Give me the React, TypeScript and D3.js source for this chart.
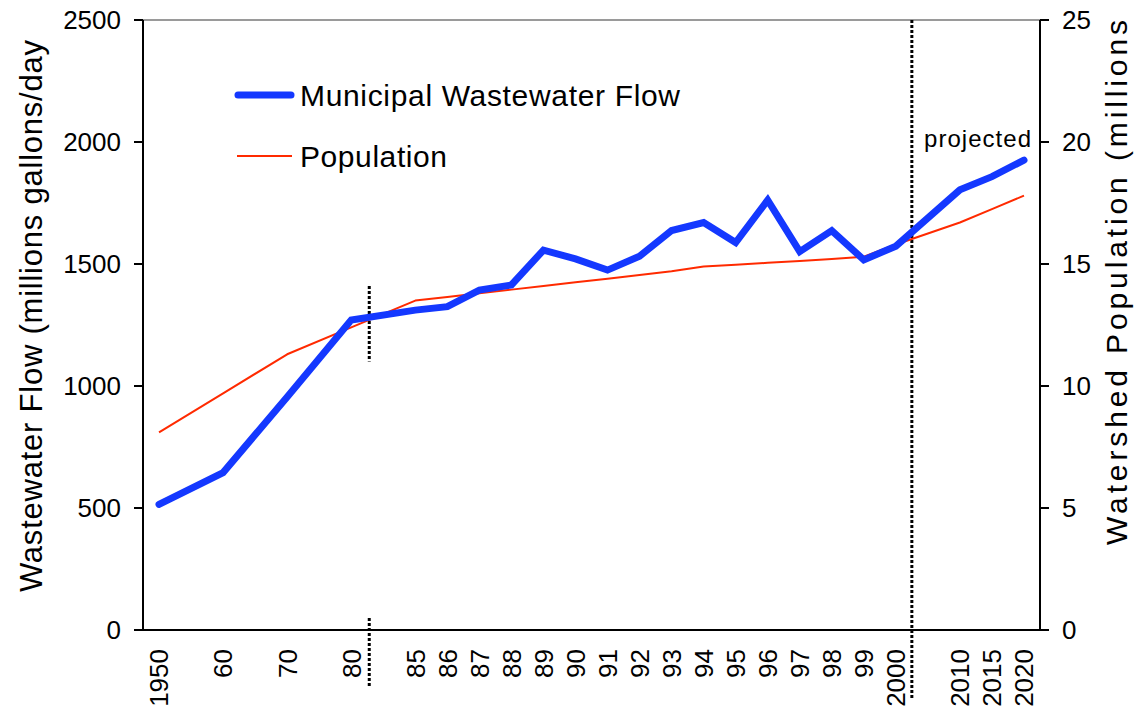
import React from "react";
import * as d3 from "d3";

const categories: string[] = [
  "1950", "", "60", "", "70", "", "80", "",
  "85", "86", "87", "88", "89", "90", "91", "92", "93", "94", "95", "96", "97", "98", "99",
  "2000", "", "2010", "2015", "2020",
];

const flow: (number | null)[] = [
  515, null, 645, null, 955, null, 1270, null,
  1311, 1325, 1393, 1414, 1557, 1521, 1475, 1532, 1637, 1670, 1588, 1762, 1551, 1637, 1517,
  1573, null, 1804, 1858, 1926,
];

const population: (number | null)[] = [
  8.1, null, 9.7, null, 11.3, null, 12.4, null,
  13.5, 13.65, 13.8, 13.95, 14.1, 14.25, 14.4, 14.55, 14.7, 14.9, 14.97, 15.05, 15.12, 15.2, 15.3,
  15.8, null, 16.7, 17.25, 17.8,
];

const leftTicks = [0, 500, 1000, 1500, 2000, 2500];
const rightTicks = [0, 5, 10, 15, 20, 25];
const breakAfter = ["80", "2000"];

const W = 1137;
const H = 717;
const L = 143, R = 1040, T = 20, B = 630;
const FONT = "'Liberation Sans', Arial, sans-serif";

export default function App() {
  const x = d3.scaleBand<number>().domain(categories.map((_, i) => i)).range([L, R]).padding(0);
  const cx = (i: number) => (x(i) as number) + x.bandwidth() / 2;
  const yL = d3.scaleLinear().domain([0, 2500]).range([B, T]);
  const yR = d3.scaleLinear().domain([0, 25]).range([B, T]);

  const flowPts = flow.map((v, i) => [i, v] as [number, number | null]).filter((d) => d[1] != null) as [number, number][];
  const popPts = population.map((v, i) => [i, v] as [number, number | null]).filter((d) => d[1] != null) as [number, number][];

  const flowLine = d3.line<[number, number]>().x((d) => cx(d[0])).y((d) => yL(d[1]));
  const popLine = d3.line<[number, number]>().x((d) => cx(d[0])).y((d) => yR(d[1]));

  const b1 = x(categories.indexOf(breakAfter[0]) + 1) as number;
  const b2 = x(categories.indexOf(breakAfter[1]) + 1) as number;

  return (
    <svg width={W} height={H} style={{ position: "absolute", left: 0, top: 0, background: "#fff" }} fontFamily={FONT}>
      <line x1={L} x2={R} y1={T} y2={T} stroke="#9a9a9a" strokeWidth={2} />
      <line x1={L} x2={L} y1={T} y2={B} stroke="#000" strokeWidth={2} />
      {leftTicks.map((t) => (
        <g key={"l" + t}>
          <line x1={L - 9} x2={L} y1={yL(t)} y2={yL(t)} stroke="#000" strokeWidth={2} />
          <text x={121} y={yL(t)} dy="0.36em" textAnchor="end" fontSize={26} fill="#000">{t}</text>
        </g>
      ))}
      <line x1={R} x2={R} y1={T} y2={B} stroke="#000" strokeWidth={2} />
      {rightTicks.map((t) => (
        <g key={"r" + t}>
          <line x1={R} x2={R + 9} y1={yR(t)} y2={yR(t)} stroke="#000" strokeWidth={2} />
          <text x={1062} y={yR(t)} dy="0.36em" textAnchor="start" fontSize={26} fill="#000">{t}</text>
        </g>
      ))}
      <line x1={L - 9} x2={R} y1={B} y2={B} stroke="#000" strokeWidth={2} />
      {categories.map((c, i) =>
        c ? (
          <text key={"x" + i} transform={`translate(${cx(i)},${649}) rotate(-90)`} dy="0.36em" textAnchor="end" fontSize={26} fill="#000">
            {c}
          </text>
        ) : null
      )}
      <line x1={b1 + 2} x2={b1 + 2} y1={yL(1410)} y2={yL(1100)} stroke="#000" strokeWidth={3} strokeDasharray="3,2" />
      <line x1={b1 + 2} x2={b1 + 2} y1={618} y2={688} stroke="#000" strokeWidth={3} strokeDasharray="3,2" />
      <line x1={b2} x2={b2} y1={T} y2={700} stroke="#000" strokeWidth={3} strokeDasharray="3,2" />
      <path d={popLine(popPts) || ""} fill="none" stroke="#ff2a00" strokeWidth={2} strokeLinejoin="round" />
      <path d={flowLine(flowPts) || ""} fill="none" stroke="#1438ff" strokeWidth={7} strokeLinejoin="miter" strokeLinecap="round" />
      <line x1={238} x2={291} y1={95} y2={95} stroke="#1438ff" strokeWidth={7} strokeLinecap="round" />
      <text x={300} y={95} dy="0.36em" fontSize={30} fill="#000" textLength={380} lengthAdjust="spacing">Municipal Wastewater Flow</text>
      <line x1={237} x2={292} y1={156} y2={156} stroke="#ff2a00" strokeWidth={2} />
      <text x={300} y={156} dy="0.36em" fontSize={30} fill="#000" textLength={147} lengthAdjust="spacing">Population</text>
      <text x={924} y={138} dy="0.36em" fontSize={24} fill="#000" textLength={107} lengthAdjust="spacing">projected</text>
      <text transform={`translate(31,592) rotate(-90)`} dy="0.36em" textAnchor="start" fontSize={31} fill="#000" textLength={552} lengthAdjust="spacing">
        Wastewater Flow (millions gallons/day
      </text>
      <text transform={`translate(1116,545) rotate(-90)`} dy="0.36em" textAnchor="start" fontSize={30} fill="#000" textLength={525} lengthAdjust="spacing">
        Watershed Population (millions
      </text>
    </svg>
  );
}
